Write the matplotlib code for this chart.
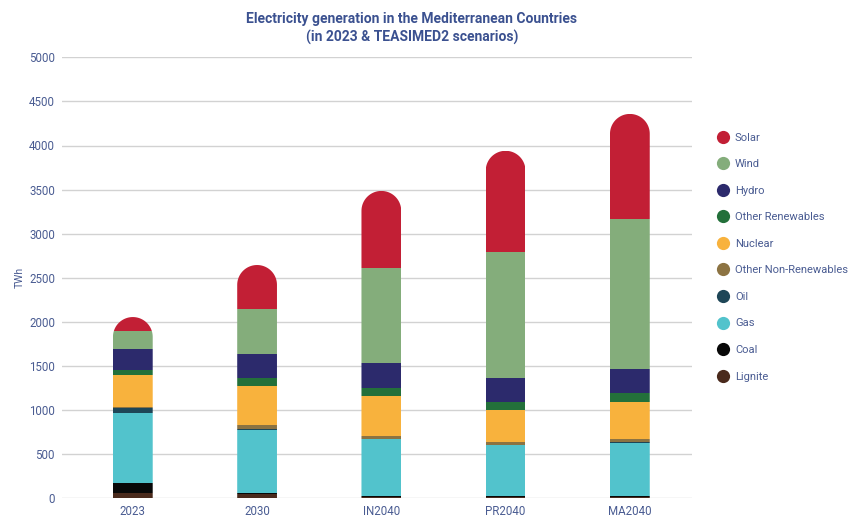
import numpy as np
import matplotlib
matplotlib.use("Agg")
import matplotlib.pyplot as plt
from matplotlib.path import Path
from matplotlib.patches import PathPatch
from matplotlib.lines import Line2D

plt.rcParams['font.family'] = ['Liberation Sans Narrow', 'Roboto', 'DejaVu Sans']

categories = ["2023", "2030", "IN2040", "PR2040", "MA2040"]

# Generation by source, TWh (bottom of the stack first)
lignite = [55, 50, 20, 15, 15]
coal = [120, 5, 10, 8, 8]
gas = [790, 720, 640, 578, 607]
oil = [55, 10, 5, 5, 5]
other_non_renewables = [15, 45, 35, 35, 35]
nuclear = [365, 445, 450, 355, 423]
other_renewables = [50, 85, 90, 98, 98]
hydro = [240, 275, 280, 275, 280]
wind = [210, 510, 1085, 1425, 1693]
solar = [155, 500, 870, 1146, 1194]

sources = ["Lignite", "Coal", "Gas", "Oil", "Other Non-Renewables", "Nuclear",
           "Other Renewables", "Hydro", "Wind", "Solar"]
series = [lignite, coal, gas, oil, other_non_renewables, nuclear,
          other_renewables, hydro, wind, solar]
colors = ["#4a2a1c", "#080808", "#52c3cc", "#1e4657", "#8c7342", "#f8b23d",
          "#23703a", "#2c2a6c", "#84ad7b", "#c21f35"]

text_color = "#4a5c92"
title_color = "#3b5190"
grid_color = "#d2d2d2"

fig = plt.figure(figsize=(8.54, 5.18), dpi=100)
ax = fig.add_axes([62 / 854, 19.7 / 518, 630 / 854, 441 / 518])

x = np.arange(len(categories))
bar_w = 0.32
ax.set_xlim(-0.57, 4.5)
ax.set_ylim(0, 5000)

# Rounded-top outline for each stacked column, circular in screen space
totals = np.sum(np.array(series), axis=0)
fig.canvas.draw()
px_per_x = ax.transData.transform((1, 0))[0] - ax.transData.transform((0, 0))[0]
px_per_y = ax.transData.transform((0, 1000))[1] - ax.transData.transform((0, 0))[1]
r_px = bar_w / 2 * px_per_x
ry = r_px / px_per_y * 1000
clips = []
for xi, tot in zip(x, totals):
    left, right = xi - bar_w / 2, xi + bar_w / 2
    th = np.linspace(0, np.pi, 60)
    arc_x = xi + (bar_w / 2) * np.cos(th)
    arc_y = tot - ry + ry * np.sin(th)
    verts = [(left, 0), (right, 0)] + list(zip(arc_x, arc_y)) + [(left, 0)]
    codes = [Path.MOVETO] + [Path.LINETO] * (len(verts) - 2) + [Path.CLOSEPOLY]
    clip = PathPatch(Path(verts, codes), transform=ax.transData,
                     facecolor="none", edgecolor="none")
    clips.append(clip)

bottom = np.zeros(len(categories))
for name, vals, col in zip(sources, series, colors):
    bars = ax.bar(x, vals, bar_w, bottom=bottom, color=col, linewidth=0, zorder=3)
    for b, clip in zip(bars, clips):
        b.set_clip_path(clip)
    bottom = bottom + np.array(vals)

ax.set_yticks(np.arange(0, 5001, 500))
ax.yaxis.grid(True, color=grid_color, linewidth=1.0, zorder=0)
ax.set_axisbelow(True)
for s in ax.spines.values():
    s.set_visible(False)
ax.tick_params(axis="both", length=0, colors=text_color, labelsize=8.3)
ax.tick_params(axis="y", pad=5)
ax.tick_params(axis="x", pad=5)
ax.set_xticks(x)
ax.set_xticklabels(categories)
ax.set_ylabel("TWh", color=text_color, fontsize=7.5, labelpad=3)

fig.text(412 / 854, 1 - 19 / 518, "Electricity generation in the Mediterranean Countries",
         ha="center", va="center", fontsize=10, fontweight="bold", color=title_color)
fig.text(412 / 854, 1 - 37 / 518, "(in 2023 & TEASIMED2 scenarios)",
         ha="center", va="center", fontsize=10, fontweight="bold", color=title_color)

handles = [Line2D([], [], marker="o", linestyle="none", markersize=9.5,
                  markerfacecolor=c, markeredgecolor="none")
           for c in colors[::-1]]
leg = fig.legend(handles, sources[::-1], loc="upper left",
                 bbox_to_anchor=(711 / 854, 1 - 127 / 518), frameon=False,
                 fontsize=8, labelspacing=1.49, handletextpad=0.45,
                 handlelength=1.2, borderpad=0)
for t in leg.get_texts():
    t.set_color(text_color)

fig.savefig("out.png", dpi=100)
